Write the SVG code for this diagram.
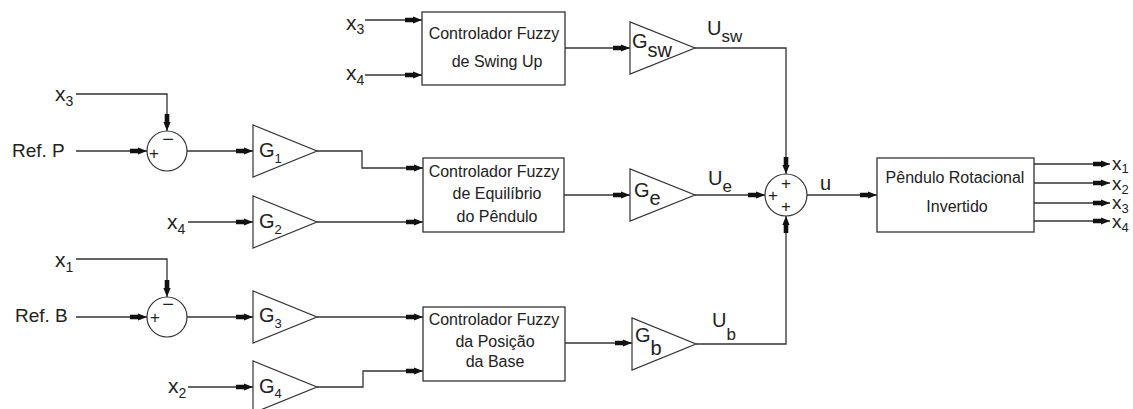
<svg xmlns="http://www.w3.org/2000/svg" width="1133" height="409" viewBox="0 0 1133 409">
<defs>
<style>
.bg{fill:#fff}
.w{fill:none;stroke:#333;stroke-width:1.3}
.a{marker-end:url(#arr)}
.box{fill:#fff;stroke:#333;stroke-width:1.3}
.tri{fill:#fff;stroke:#333;stroke-width:1.2}
.sum{fill:#fff;stroke:#333;stroke-width:1.2}
text{font-family:"Liberation Sans",Arial,sans-serif;fill:#222}
.ct{font-size:16px;text-anchor:middle}
.lx{font-size:21px}
.rx{font-size:19px}
.sd{font-size:14px}
.rd{font-size:13px}
.g{font-size:20px}
.gs{font-size:13px}
.u{font-size:20px}
.us{font-size:17px}
.ref{font-size:19px}
.sg{font-size:17px;text-anchor:middle}
.mn{font-size:20px;text-anchor:middle}
</style>
<marker id="arr" markerUnits="userSpaceOnUse" viewBox="-18 -4 19 8" refX="0" refY="0" markerWidth="19" markerHeight="8" orient="auto">
<path d="M-17,-2.3 L-9,-2.3 L-9,-3.6 L0,0 L-9,3.6 L-9,2.3 L-17,2.3 Z" fill="#111"/>
</marker>
</defs>
<rect class="bg" x="0" y="0" width="1133" height="409"/>

<g id="connectors">
<path class="w a" d="M365,20 L422,20"/>
<path class="w a" d="M365,75 L422,75"/>
<path class="w a" d="M565,48 L630,48"/>
<path class="w a" d="M695,48 L786,48 L786,174"/>
<path class="w a" d="M76,94 L167,94 L167,131"/>
<path class="w a" d="M76,151 L147,151"/>
<path class="w a" d="M187,151 L253,151"/>
<path class="w a" d="M317,151 L362,151 L362,168 L423,168"/>
<path class="w a" d="M188,222 L253,222"/>
<path class="w a" d="M317,222 L423,222"/>
<path class="w a" d="M564,195 L630,195"/>
<path class="w a" d="M695,195 L765,195"/>
<path class="w a" d="M76,259 L167,259 L167,297"/>
<path class="w a" d="M76,317 L147,317"/>
<path class="w a" d="M187,317 L253,317"/>
<path class="w a" d="M317,317 L423,317"/>
<path class="w a" d="M188,387 L253,387"/>
<path class="w a" d="M317,387 L363,387 L363,371 L423,371"/>
<path class="w a" d="M565,343 L632,343"/>
<path class="w a" d="M696,344 L786,344 L786,216"/>
<path class="w a" d="M807,195 L877,195"/>
<path class="w a" d="M1034,164 L1110,164"/>
<path class="w a" d="M1034,183 L1110,183"/>
<path class="w a" d="M1034,203 L1110,203"/>
<path class="w a" d="M1034,221 L1110,221"/>
</g>

<g id="in-x3-top"><text class="lx" x="346" y="30">x<tspan class="sd" dy="4">3</tspan></text></g>
<g id="in-x4-top"><text class="lx" x="346" y="80">x<tspan class="sd" dy="5">4</tspan></text></g>

<g id="fuzzy-swing">
<rect class="box" x="422" y="12" width="143" height="73"/>
<text class="ct" x="494" y="39">Controlador Fuzzy</text>
<text class="ct" x="497" y="67">de Swing Up</text>
</g>

<g id="gain-sw">
<polygon class="tri" points="630,22 630,74 695,48"/>
<text class="g" x="632" y="48">G<tspan class="g" dy="9">sw</tspan></text>
</g>
<g id="label-usw"><text class="u" x="707" y="35">U<tspan class="us" dy="7">sw</tspan></text></g>

<g id="in-x3-left"><text class="lx" x="55" y="101">x<tspan class="sd" dy="5">3</tspan></text></g>
<g id="in-refp"><text class="ref" x="12" y="157">Ref. P</text></g>
<g id="sum-p">
<circle class="sum" cx="167" cy="151" r="20"/>
<text class="sg" x="154" y="159">+</text>
<text class="mn" x="168" y="146">−</text>
</g>
<g id="gain-1">
<polygon class="tri" points="253,125 253,177 317,151"/>
<text class="g" x="259" y="157">G<tspan class="gs" dy="6">1</tspan></text>
</g>
<g id="in-x4-left"><text class="lx" x="167" y="229">x<tspan class="sd" dy="5">4</tspan></text></g>
<g id="gain-2">
<polygon class="tri" points="253,196 253,248 317,222"/>
<text class="g" x="259" y="228">G<tspan class="gs" dy="6">2</tspan></text>
</g>

<g id="fuzzy-equilibrio">
<rect class="box" x="423" y="158" width="141" height="74"/>
<text class="ct" x="494" y="177">Controlador Fuzzy</text>
<text class="ct" x="497" y="199">de Equilíbrio</text>
<text class="ct" x="497" y="222">do Pêndulo</text>
</g>
<g id="gain-e">
<polygon class="tri" points="630,169 630,221 695,195"/>
<text class="g" x="634" y="197">G<tspan class="g" dy="8">e</tspan></text>
</g>
<g id="label-ue"><text class="u" x="708" y="185">U<tspan class="us" dy="7">e</tspan></text></g>

<g id="in-x1-left"><text class="lx" x="55" y="267">x<tspan class="sd" dy="5">1</tspan></text></g>
<g id="in-refb"><text class="ref" x="15" y="322">Ref. B</text></g>
<g id="sum-b">
<circle class="sum" cx="167" cy="317" r="20"/>
<text class="sg" x="155" y="323">+</text>
<text class="mn" x="168" y="311">−</text>
</g>
<g id="gain-3">
<polygon class="tri" points="253,291 253,343 317,317"/>
<text class="g" x="259" y="322">G<tspan class="gs" dy="6">3</tspan></text>
</g>
<g id="in-x2-left"><text class="lx" x="168" y="393">x<tspan class="sd" dy="5">2</tspan></text></g>
<g id="gain-4">
<polygon class="tri" points="253,361 253,413 317,387"/>
<text class="g" x="259" y="393">G<tspan class="gs" dy="5">4</tspan></text>
</g>

<g id="fuzzy-base">
<rect class="box" x="423" y="307" width="142" height="74"/>
<text class="ct" x="494" y="325">Controlador Fuzzy</text>
<text class="ct" x="495" y="347">da Posição</text>
<text class="ct" x="495" y="367">da Base</text>
</g>
<g id="gain-b">
<polygon class="tri" points="632,318 632,370 696,344"/>
<text class="g" x="635" y="342">G<tspan class="g" dy="13">b</tspan></text>
</g>
<g id="label-ub"><text class="u" x="712" y="327">U<tspan class="us" dy="13">b</tspan></text></g>

<g id="sum-main">
<circle class="sum" cx="786" cy="195" r="21"/>
<text class="sg" x="786" y="189">+</text>
<text class="sg" x="773" y="201">+</text>
<text class="sg" x="786" y="212">+</text>
</g>
<g id="label-u"><text class="u" x="820" y="190">u</text></g>

<g id="pendulo">
<rect class="box" x="877" y="158" width="157" height="74"/>
<text class="ct" x="955" y="183">Pêndulo Rotacional</text>
<text class="ct" x="957" y="212">Invertido</text>
</g>
<g id="out-x1"><text class="rx" x="1112" y="170">x<tspan class="rd" dy="3">1</tspan></text></g>
<g id="out-x2"><text class="rx" x="1112" y="190">x<tspan class="rd" dy="4">2</tspan></text></g>
<g id="out-x3"><text class="rx" x="1112" y="209">x<tspan class="rd" dy="4">3</tspan></text></g>
<g id="out-x4"><text class="rx" x="1112" y="228">x<tspan class="rd" dy="4">4</tspan></text></g>
</svg>
